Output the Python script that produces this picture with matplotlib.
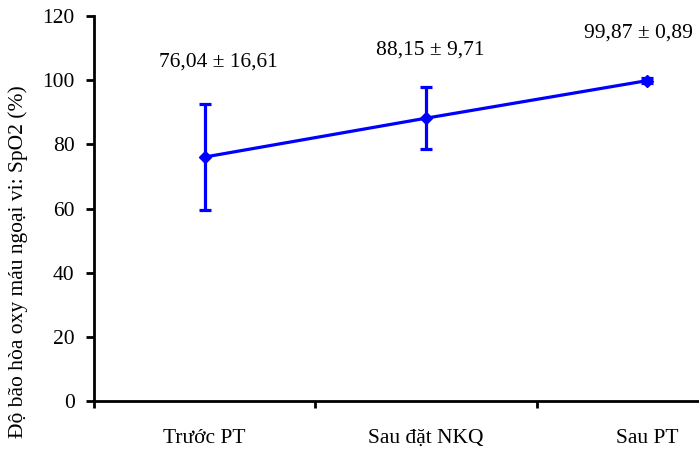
import matplotlib.pyplot as plt
import numpy as np

plt.rcParams['font.family'] = ['Liberation Serif', 'DejaVu Serif']

groups = ['Trước PT', 'Sau đặt NKQ', 'Sau PT']
means = [76.04, 88.15, 99.87]
sds = [16.61, 9.71, 0.89]
labels = ['76,04 ± 16,61', '88,15 ± 9,71', '99,87 ± 0,89']
# label positions in data units
label_x = [0.06, 1.02, 1.96]
label_y = [105.5, 109.5, 114.8]

fig = plt.figure(figsize=(6.99, 4.49), dpi=100)
# axis runs past the right edge, as in the cropped original
ax = fig.add_axes([94 / 699, 48 / 449, 664 / 699, 385 / 449])

x = np.arange(len(groups))
ax.errorbar(x, means, yerr=sds, color='#0000ff', lw=2.3, elinewidth=2.3,
            capsize=4, capthick=2.3, marker='D', ms=6, clip_on=False)

for tx, ty, t in zip(label_x, label_y, labels):
    ax.text(tx, ty, t, ha='center', va='center', fontsize=15.5)

ax.set_xlim(-0.5, 2.5)
ax.set_ylim(0, 120)
ax.set_yticks(np.arange(0, 121, 20))
ax.set_xticks(np.arange(-0.5, 2.6, 1))
ax.set_xticklabels([])
ax.set_xticks(x, minor=True)
ax.set_xticklabels(groups, minor=True, fontsize=15.5)
ax.tick_params(axis='x', which='minor', length=0, pad=20)
ax.tick_params(axis='x', which='major', length=5, width=2, direction='out')
ax.tick_params(axis='y', length=6, width=2, labelsize=15.5, pad=8)

for s in ['top', 'right']:
    ax.spines[s].set_visible(False)
for s in ['left', 'bottom']:
    ax.spines[s].set_linewidth(2)

fig.text(18 / 699, 1 - 262 / 449, 'Độ bão hòa oxy máu ngoại vi: SpO2 (%)',
         rotation=90, ha='center', va='center', fontsize=15.5)

fig.savefig('out.png', dpi=100)
